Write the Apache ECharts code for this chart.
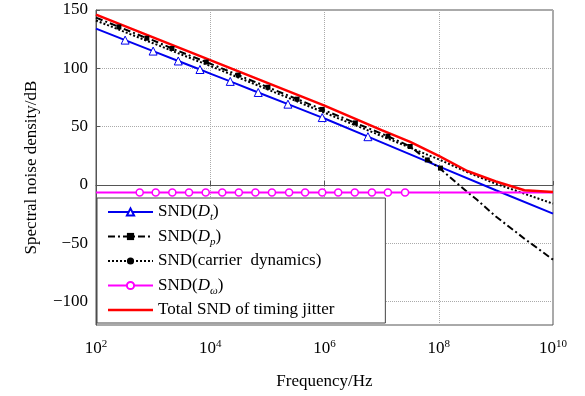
<!DOCTYPE html>
<html>
<head>
<meta charset="utf-8">
<script src="https://cdn.jsdelivr.net/npm/echarts@6/dist/echarts.min.js"></script>
<style>
  html, body { margin: 0; padding: 0; background: #fff; }
  #chart { width: 585px; height: 396px; }
</style>
</head>
<body>
<div id="chart"></div>
<script>
// frequencies are given as log10(f), values in dB

// SND(Dt) - blue solid with triangles
const dtExp = [2, 4, 6, 8, 9, 10];
const dtVal = [134, 95.5, 57, 16, -4.5, -24.5];
const dtMarkExp = [2.51, 3.00, 3.44, 3.82, 4.35, 4.84, 5.36, 5.96, 6.76];
const dtMarkVal = [124.2, 114.8, 106.3, 99, 88.8, 79.3, 69.3, 57.8, 41.4];

// SND(Dp) - black dash-dot with dots
const dpExp = [2, 3, 4, 5, 6, 7, 7.5, 7.85, 8, 8.5, 8.67, 9, 9.5, 10];
const dpVal = [143.5, 124, 104, 84, 64, 44, 33, 20, 15, -6, -12.7, -27, -46, -64];
const dpMarkExp = [2.40, 2.89, 3.33, 3.93, 4.49, 5.01, 5.52, 5.96, 6.54, 7.11, 7.50, 7.80, 8.03];
const dpMarkVal = [135.5, 125.8, 117, 105.4, 94.2, 83.8, 73.6, 64.8, 53.2, 41.8, 33, 21.5, 14.5];

// SND(carrier dynamics) - black dotted
const cdExp = [2, 3, 4, 5, 6, 7, 7.85, 8, 8.5, 9, 9.3, 9.5, 10];
const cdVal = [141, 121.5, 102, 82, 62, 42, 25, 22, 11, 1, -4, -7.5, -16];

// SND(Dw) - magenta with circles
const dwExp = [2, 10];
const dwVal = [-6.5, -6.5];
const dwMarkExp = [2.765, 3.045, 3.336, 3.628, 3.92, 4.21, 4.50, 4.79, 5.08, 5.38, 5.66, 5.96, 6.24, 6.53, 6.83, 7.11, 7.41];
const dwMarkVal = [-6.5, -6.5, -6.5, -6.5, -6.5, -6.5, -6.5, -6.5, -6.5, -6.5, -6.5, -6.5, -6.5, -6.5, -6.5, -6.5, -6.5];

// Total SND of timing jitter - red
const totExp = [2, 3, 4, 5, 6, 7, 7.5, 8, 8.5, 9, 9.5, 10];
const totVal = [146, 126.5, 107, 87.5, 68, 47, 37, 25, 12, 3, -4.5, -6];

const yTicks = [-100, -50, 0, 50, 100, 150];
const xTicks = [2, 4, 6, 8, 10];

const FONT = '"Liberation Serif", "Times New Roman", serif';

// line points without symbol + marker points with symbol, sorted by x
function buildData(exps, vals, mExps, mVals) {
  const pts = exps.map((e, i) => ({ value: [Math.pow(10, e), vals[i]], symbol: 'none', e: e }));
  (mExps || []).forEach((e, i) => pts.push({ value: [Math.pow(10, e), mVals[i]], e: e }));
  pts.sort((a, b) => a.e - b.e);
  return pts.map(p => { const o = { value: p.value }; if (p.symbol) o.symbol = p.symbol; return o; });
}

const legendLabels = {
  'SND(Dt)': 'SND({it|D}{sub|t})',
  'SND(Dp)': 'SND({it|D}{sub|p})',
  'SND(carrier dynamics)': 'SND(carrier  dynamics)',
  'SND(Dw)': 'SND({it|D}{sub|ω})',
  'Total SND of timing jitter': 'Total SND of timing jitter'
};

const legendData = Object.keys(legendLabels).map(n =>
  n === 'Total SND of timing jitter' ? { name: n, icon: 'path://M0 0H45V2.4H0Z' } : { name: n });

const chart = echarts.init(document.getElementById('chart'));
chart.setOption({
  animation: false,
  backgroundColor: '#fff',
  grid: {
    left: 96, right: 32, top: 10, bottom: 71,
    show: true, borderColor: '#555', borderWidth: 1
  },
  legend: {
    orient: 'vertical',
    left: 97, top: 198,
    padding: [3, 51, 2, 10],
    itemGap: 2.5,
    itemWidth: 45,
    itemHeight: 9,
    borderColor: '#444',
    borderWidth: 1,
    backgroundColor: '#fff',
    data: legendData,
    formatter: name => legendLabels[name],
    textStyle: {
      fontFamily: FONT, fontSize: 17, color: '#000', lineHeight: 22,
      rich: {
        it: { fontFamily: FONT, fontSize: 17, fontStyle: 'italic', color: '#000', lineHeight: 22 },
        sub: { fontFamily: FONT, fontSize: 11, fontStyle: 'italic', color: '#000', verticalAlign: 'bottom', lineHeight: 22 }
      }
    }
  },
  xAxis: {
    type: 'log',
    logBase: 10,
    min: 100,
    max: 1e10,
    interval: 2,
    name: 'Frequency/Hz',
    nameLocation: 'middle',
    nameGap: 48,
    nameTextStyle: { fontFamily: FONT, fontSize: 17, color: '#000' },
    axisLine: { show: true, lineStyle: { color: '#555' } },
    axisTick: { show: true, inside: true, length: 4, lineStyle: { color: '#555' } },
    axisLabel: {
      margin: 14,
      customValues: xTicks.map(e => Math.pow(10, e)),
      formatter: v => '{b|10}{s|' + Math.round(Math.log10(v)) + '}',
      rich: {
        b: { fontFamily: FONT, fontSize: 17, color: '#000', lineHeight: 20 },
        s: { fontFamily: FONT, fontSize: 11, color: '#000', verticalAlign: 'top', lineHeight: 20 }
      }
    },
    splitLine: { show: true, lineStyle: { color: '#aaa', type: [1, 1] } }
  },
  yAxis: {
    type: 'value',
    min: -120,
    max: 150,
    name: 'Spectral noise density/dB',
    nameLocation: 'middle',
    nameGap: 56,
    nameTextStyle: { fontFamily: FONT, fontSize: 17, color: '#000' },
    axisLine: { show: true, lineStyle: { color: '#555' } },
    axisTick: { show: true, inside: true, length: 4, customValues: yTicks, lineStyle: { color: '#555' } },
    axisLabel: {
      margin: 8,
      customValues: yTicks,
      fontFamily: FONT, fontSize: 17, color: '#000',
      formatter: v => String(v).replace('-', '\u2212')
    },
    splitLine: { show: true, lineStyle: { color: '#aaa', type: [1, 1] } }
  },
  series: [
    {
      name: 'SND(Dt)', type: 'line',
      data: buildData(dtExp, dtVal, dtMarkExp, dtMarkVal),
      symbol: 'triangle', symbolSize: 8,
      lineStyle: { color: '#0000ee', width: 2 },
      itemStyle: { color: '#fff', borderColor: '#0000ee', borderWidth: 1 }
    },
    {
      name: 'SND(Dp)', type: 'line',
      data: buildData(dpExp, dpVal, dpMarkExp, dpMarkVal),
      symbol: 'rect', symbolSize: 5,
      lineStyle: { color: '#000', width: 2, type: [7, 3, 2, 3] },
      itemStyle: { color: '#000' }
    },
    {
      name: 'SND(carrier dynamics)', type: 'line',
      data: buildData(cdExp, cdVal),
      symbol: 'circle', symbolSize: 4,
      lineStyle: { color: '#000', width: 2, type: [2, 2] },
      itemStyle: { color: '#000' }
    },
    {
      name: 'SND(Dw)', type: 'line',
      data: buildData(dwExp, dwVal, dwMarkExp, dwMarkVal),
      symbol: 'circle', symbolSize: 7,
      lineStyle: { color: '#ff00ff', width: 2 },
      itemStyle: { color: '#fff', borderColor: '#ff00ff', borderWidth: 1.5 }
    },
    {
      name: 'Total SND of timing jitter', type: 'line',
      data: buildData(totExp, totVal),
      symbol: 'none',
      lineStyle: { color: '#ff0000', width: 2.5 },
      itemStyle: { color: '#ff0000' }
    }
  ]
});
</script>
</body>
</html>
